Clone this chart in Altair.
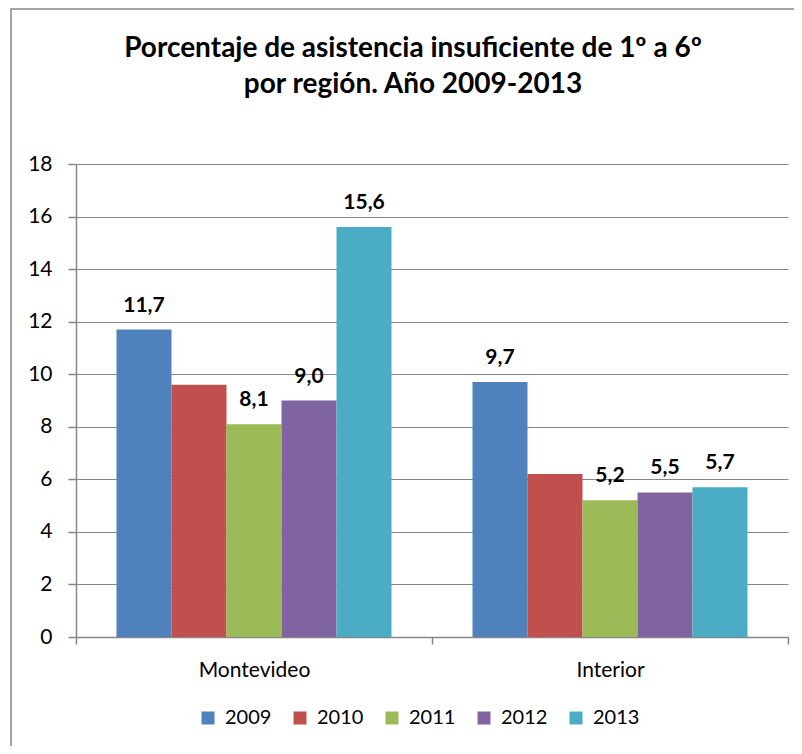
import altair as alt
import pandas as pd

regions = ["Montevideo", "Interior"]
years = ["2009", "2010", "2011", "2012", "2013"]
montevideo = [11.7, 9.6, 8.1, 9.0, 15.6]
interior = [9.7, 6.2, 5.2, 5.5, 5.7]
show_label = [True, False, True, True, True]
colors = ["#4F81BD", "#C0504D", "#9BBB59", "#8064A2", "#4BACC6"]
y_ticks = [0, 2, 4, 6, 8, 10, 12, 14, 16, 18]
title_lines = ["Porcentaje de asistencia insuficiente de 1º a 6º", "por región. Año 2009-2013"]

rows = []
for reg, vals in zip(regions, [montevideo, interior]):
    for yr, v, s in zip(years, vals, show_label):
        rows.append({"region": reg, "year": yr, "value": v, "show": s})
df = pd.DataFrame(rows)

FONT = "Lato"
GRAY = "#868686"

x_enc = alt.X(
    "region:N", sort=regions, title=None,
    scale=alt.Scale(paddingInner=0, paddingOuter=0),
    axis=alt.Axis(labelAngle=0, tickBand="extent", domainColor=GRAY, tickColor=GRAY,
                  tickSize=7, labelFontSize=21, labelColor="black", labelFont=FONT,
                  labelPadding=15, grid=False, domainWidth=1.5, tickWidth=1.5),
)
xoff = alt.XOffset("year:N", sort=years, scale=alt.Scale(paddingInner=0, paddingOuter=0.736))
y_enc = alt.Y(
    "value:Q", title=None,
    scale=alt.Scale(domain=[0, 18], nice=False),
    axis=alt.Axis(values=y_ticks, grid=True, gridColor=GRAY, gridWidth=1.2, domainColor=GRAY,
                  tickColor=GRAY, tickSize=8, labelFontSize=21, labelColor="black",
                  labelFont=FONT, labelPadding=16, domainWidth=1.5, tickWidth=1.5),
)

base = alt.Chart(df)

bars = base.mark_bar().encode(
    x=x_enc, xOffset=xoff, y=y_enc,
    color=alt.Color("year:N", sort=years,
                    scale=alt.Scale(domain=years, range=colors),
                    legend=alt.Legend(orient="none", legendX=122, legendY=544, direction="horizontal",
                                      title=None, symbolType="square", symbolSize=169,
                                      symbolStrokeWidth=0, labelFontSize=20, labelFont=FONT,
                                      labelColor="black", columnPadding=18, labelOffset=7)),
)

labels = base.transform_filter("datum.show").transform_calculate(
    lbl="replace(format(datum.value, '.1f'), '.', ',')"
).mark_text(dy=-14, baseline="bottom", fontWeight="bold", fontSize=21, font=FONT, color="black").encode(
    x=x_enc, xOffset=xoff, y=y_enc, text="lbl:N"
)

frame = alt.Chart(pd.DataFrame({"a": [0]})).mark_rect(filled=False, stroke=GRAY, strokeWidth=1.5).encode(
    x=alt.value(-65), x2=alt.value(760), y=alt.value(-155), y2=alt.value(640)
)

chart = alt.layer(frame, bars, labels).properties(
    width=712, height=473,
    autosize=alt.AutoSizeParams(type="none"),
    padding={"left": 68, "top": 156, "right": 6, "bottom": 109},
    title=alt.TitleParams(text=title_lines, font=FONT, fontSize=28, fontWeight="bold",
                          color="black", anchor="middle", frame="group", dx=-19,
                          offset=-91, lineHeight=36),
).configure_view(stroke=None)

chart.save("out.html", embed_options={"renderer": "svg", "actions": False})
